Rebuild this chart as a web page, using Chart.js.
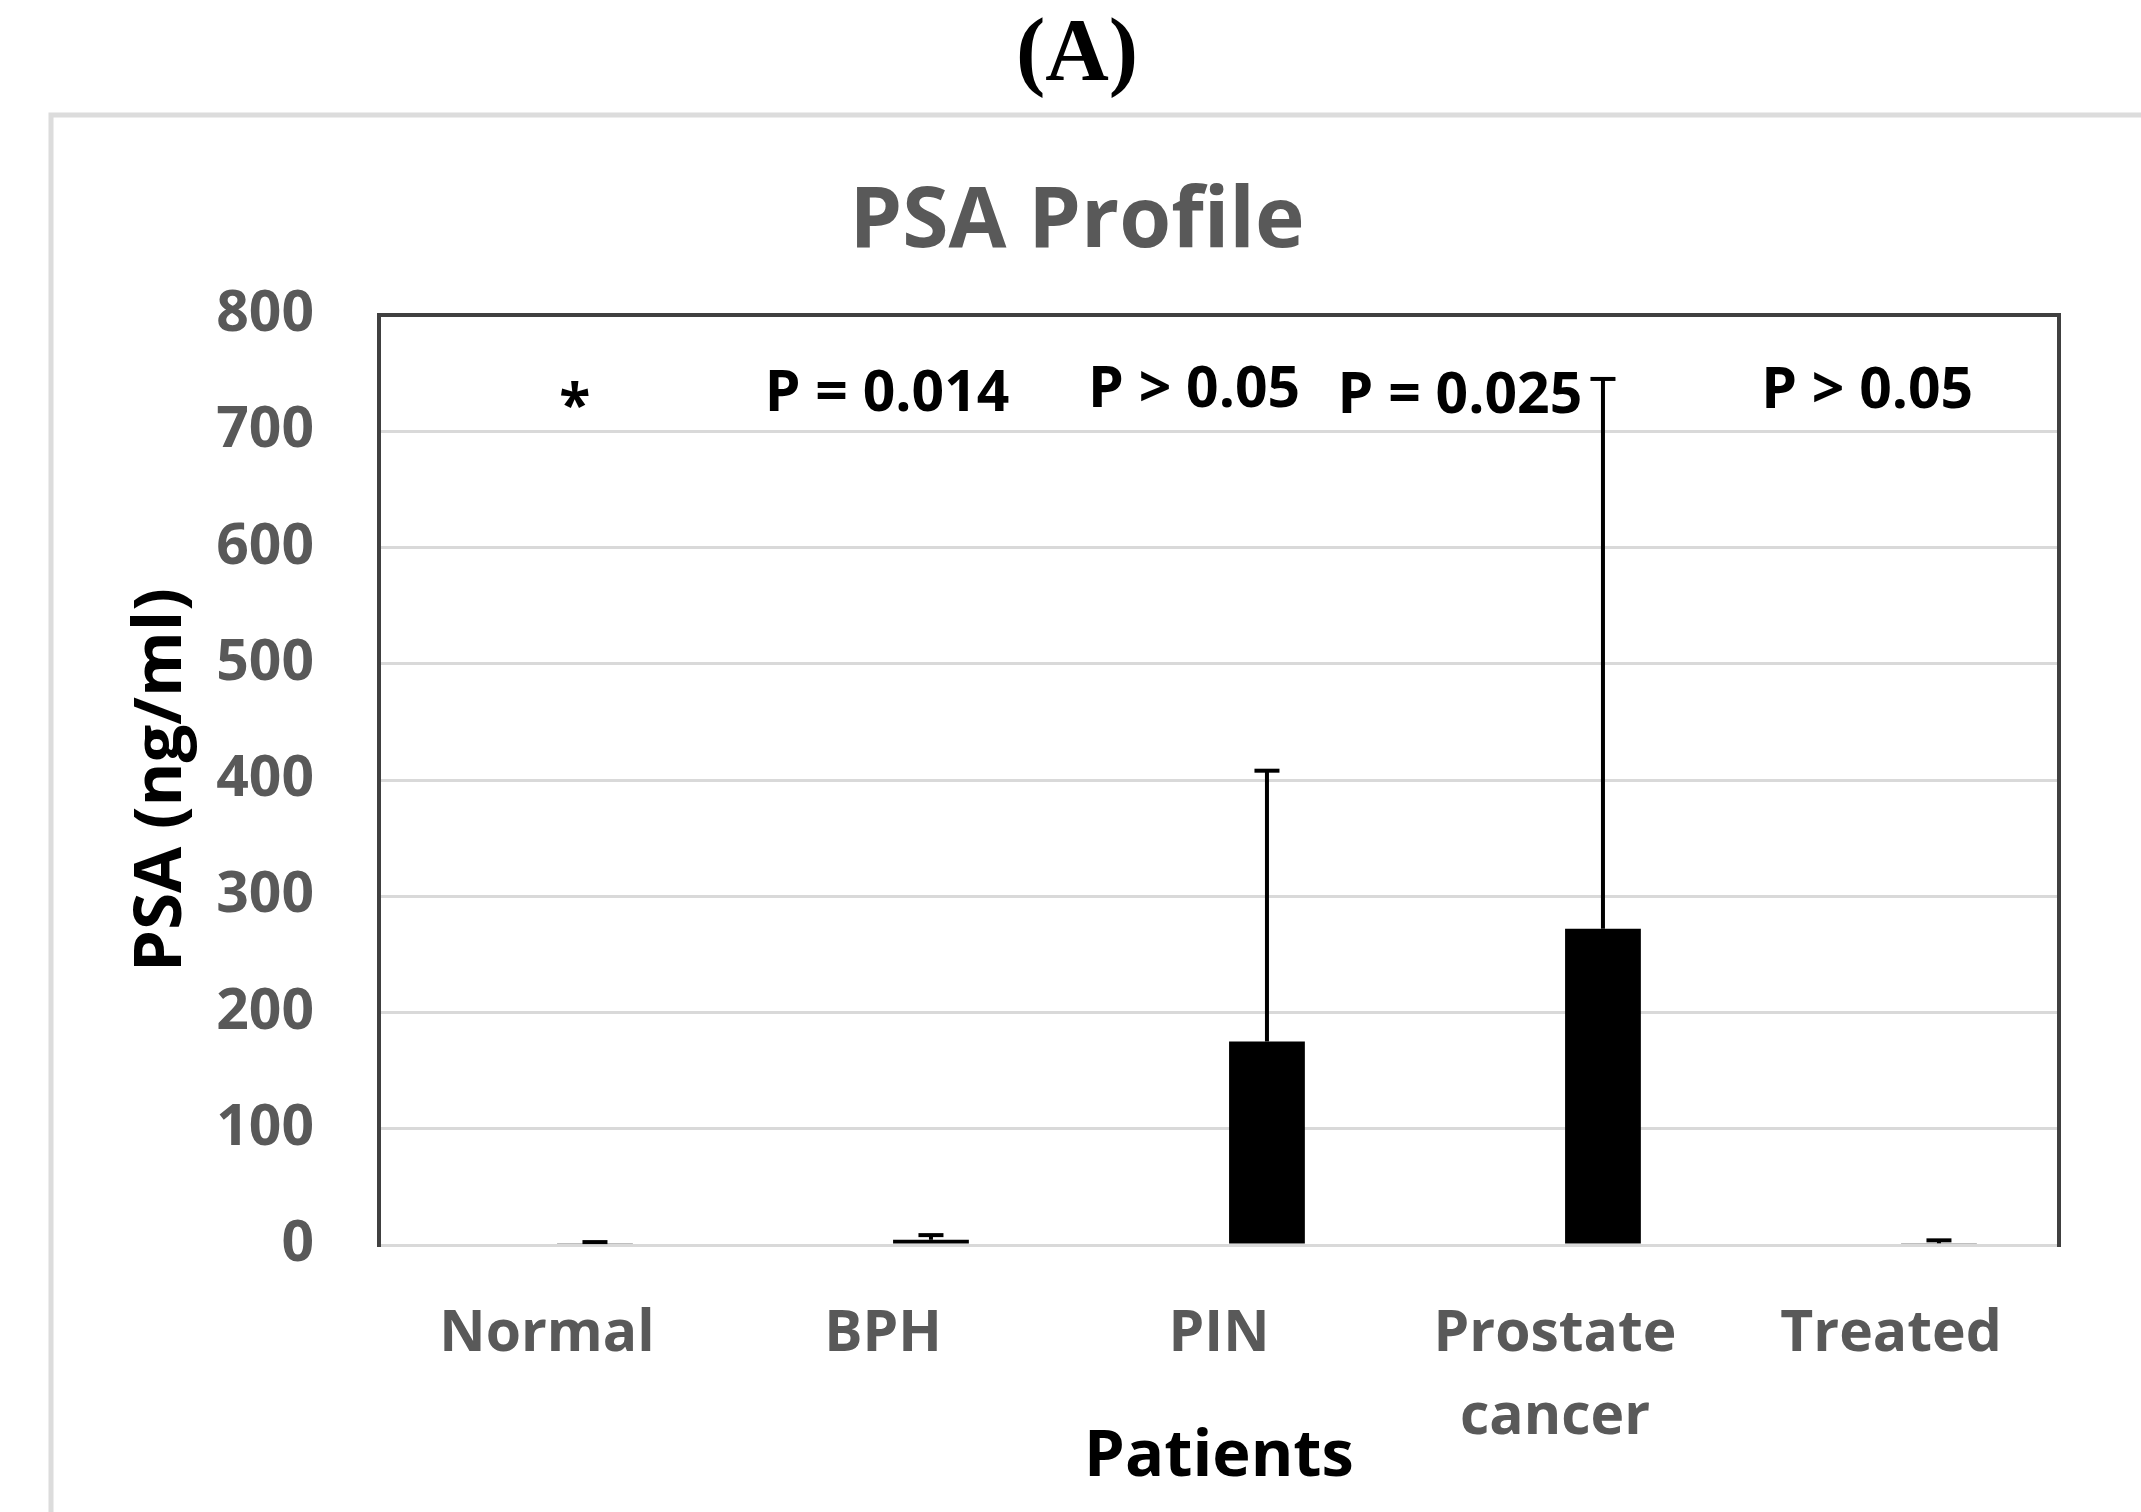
<!DOCTYPE html>
<html>
<head>
<meta charset="utf-8">
<script src="https://cdn.jsdelivr.net/npm/chart.js@4.4.1/dist/chart.umd.min.js"></script>
<style>
html,body{margin:0;padding:0;background:#fff;}
canvas{display:block;}
</style>
</head>
<body>
<canvas id="c" width="2141" height="1512"></canvas>
<script>
// ---- data ----
const categories = ['Normal', 'BPH', 'PIN', ['Prostate', 'cancer'], 'Treated'];
const meanPSA = [1.0, 4.5, 175, 272, 1.5];
const errPlus = [1.5, 4.0, 233, 473, 2.5];
const spacerSeries = [null, null, null, null, null];
const yMin = 0, yMax = 800, yStep = 100;
const pValueTexts = ['*', 'P = 0.014', 'P > 0.05', 'P = 0.025', 'P > 0.05'];

// ---- layout of the p-value notes (category shift fraction, baseline value) ----
const noteLayout = {
  shift: [0.083, 0.012, -0.074, -0.283, -0.071],
  baseline: [705, 717, 721, 716, 720]
};

const FONT = 'Open Sans';
const GRAY = '#595959';

const framePlugin = {
  id: 'frame',
  beforeDraw(chart) {
    const ctx = chart.ctx;
    ctx.save();
    ctx.fillStyle = '#fff';
    ctx.fillRect(0, 0, chart.width, chart.height);
    ctx.strokeStyle = '#dcdcdc';
    ctx.lineWidth = 5;
    ctx.strokeRect(51, 115, 2300, 1600);
    ctx.restore();
  },
  afterDatasetsDraw(chart) {
    const ctx = chart.ctx;
    const meta = chart.getDatasetMeta(1);
    const ys = chart.scales.y;
    ctx.save();
    ctx.strokeStyle = '#000';
    ctx.lineWidth = 4;
    meta.data.forEach((bar, i) => {
      const x = bar.x;
      const y0 = ys.getPixelForValue(meanPSA[i]);
      const y1 = ys.getPixelForValue(meanPSA[i] + errPlus[i]);
      ctx.beginPath();
      ctx.moveTo(x, y0);
      ctx.lineTo(x, y1);
      ctx.stroke();
      ctx.beginPath();
      ctx.moveTo(x - 12.5, y1);
      ctx.lineTo(x + 12.5, y1);
      ctx.stroke();
    });
    ctx.restore();
  },
  afterDraw(chart) {
    const ctx = chart.ctx;
    const {left, right, top, bottom} = chart.chartArea;
    ctx.save();
    ctx.strokeStyle = '#404040';
    ctx.lineWidth = 4;
    ctx.beginPath();
    ctx.moveTo(left, bottom + 2);
    ctx.lineTo(left, top);
    ctx.lineTo(right, top);
    ctx.lineTo(right, bottom + 2);
    ctx.stroke();
    // p-value notes
    const xs = chart.scales.x, ys = chart.scales.y;
    const catW = (xs.right - xs.left) / categories.length;
    ctx.fillStyle = '#000';
    ctx.font = 'bold 57px "' + FONT + '"';
    ctx.textAlign = 'center';
    ctx.textBaseline = 'alphabetic';
    pValueTexts.forEach((t, i) => {
      const x = xs.getPixelForValue(i) + noteLayout.shift[i] * catW;
      const y = ys.getPixelForValue(noteLayout.baseline[i]);
      ctx.fillText(t, x, y);
    });
    ctx.restore();
  }
};

new Chart(document.getElementById('c'), {
  type: 'bar',
  data: {
    labels: categories,
    datasets: [
      { label: '', data: spacerSeries, backgroundColor: 'rgba(0,0,0,0)' },
      { label: 'PSA', data: meanPSA, backgroundColor: '#000', borderWidth: 0 }
    ]
  },
  options: {
    responsive: false,
    devicePixelRatio: 1,
    animation: false,
    categoryPercentage: 0.571,
    barPercentage: 0.79,
    layout: { padding: { left: 95, right: 82, top: 0, bottom: 0 } },
    plugins: {
      legend: { display: false },
      tooltip: { enabled: false },
      title: {
        display: true, text: '(A)', color: '#000',
        font: { family: 'Liberation Serif', size: 88, weight: 'bold', lineHeight: 1 },
        padding: { top: 12, bottom: 0 }
      },
      subtitle: {
        display: true, text: 'PSA Profile', color: GRAY,
        font: { family: FONT, size: 84, weight: 'bold', lineHeight: 1 },
        padding: { top: 81, bottom: 50 }
      }
    },
    scales: {
      x: {
        grid: { display: false, drawTicks: false },
        border: { display: true, color: '#d9d9d9', width: 3 },
        ticks: {
          color: GRAY, padding: 48, maxRotation: 0, autoSkip: false,
          font: { family: FONT, size: 57, weight: 'bold', lineHeight: 1.46 }
        },
        title: {
          display: true, text: 'Patients', color: '#000',
          font: { family: FONT, size: 65, weight: 'bold', lineHeight: 1 },
          padding: { top: 0, bottom: 22 }
        },
        afterFit(s) { s.height = 267; }
      },
      y: {
        min: yMin, max: yMax,
        ticks: {
          stepSize: yStep, color: GRAY, padding: 65,
          font: { family: FONT, size: 57, weight: 'bold' }
        },
        grid: { color: '#d9d9d9', lineWidth: 3, drawTicks: false },
        border: { display: false },
        title: {
          display: true, text: 'PSA (ng/ml)', color: '#000',
          font: { family: FONT, size: 67, weight: 'bold', lineHeight: 1 },
          padding: { top: 33, bottom: 0 }
        },
        afterFit(s) { s.width = 284; }
      }
    }
  },
  plugins: [framePlugin]
});
</script>
</body>
</html>
